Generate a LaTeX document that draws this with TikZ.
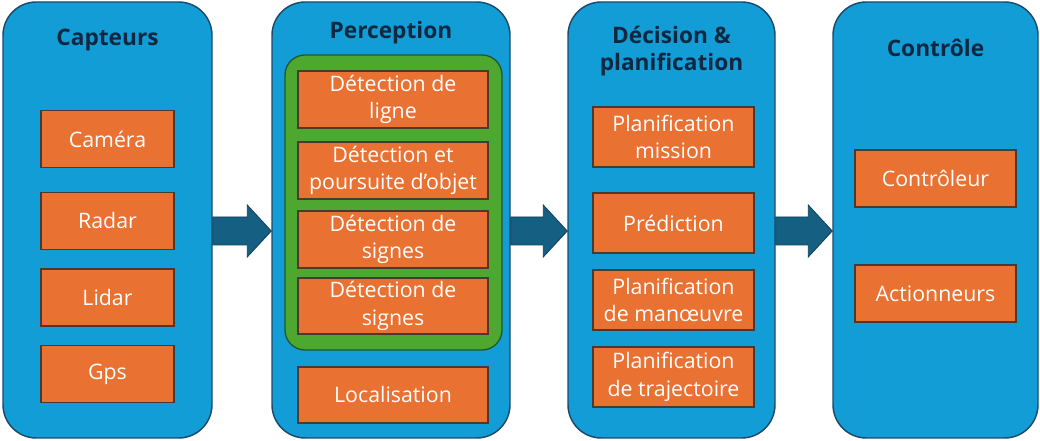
\documentclass[tikz,border=0pt]{standalone}
\usepackage{fontspec}
\setmainfont{Open Sans}
\usetikzlibrary{calc}
\definecolor{panelblue}{HTML}{129DD6}
\definecolor{paneledge}{HTML}{1B4A6B}
\definecolor{boxorange}{HTML}{E97132}
\definecolor{boxedge}{HTML}{4A3A30}
\definecolor{groupgreen}{HTML}{4EA72E}
\definecolor{groupedge}{HTML}{1E5A2A}
\definecolor{arrowteal}{HTML}{156082}
\definecolor{arrowedge}{HTML}{0E3F5A}
\definecolor{titlenavy}{HTML}{0E2841}
\def\u{0.75pt}
\tikzset{
  panel/.style={draw=paneledge, line width=1.1pt, fill=panelblue, rounded corners=25pt, inner sep=0pt},
  group/.style={draw=groupedge, line width=1pt, fill=groupgreen, rounded corners=15pt, inner sep=0pt},
  obox/.style={draw=boxedge, line width=0.8pt, fill=boxorange, inner sep=0pt, align=center,
    text=white, font=\fontsize{16}{20.5}\selectfont},
  ptitle/.style={inner sep=0pt, align=center, text=titlenavy, font=\fontsize{17}{20.5}\selectfont\bfseries},
  barrow/.style={fill=arrowteal, draw=arrowedge, line width=0.6pt, line join=miter}
}
\begin{document}
\begin{tikzpicture}[x=0.75pt, y=-0.75pt]
\useasboundingbox (0,0) rectangle (1040,441);
% panels
\node[panel, minimum width=209*\u, minimum height=436*\u] (p1) at (107.5,220) {};
\node[panel, minimum width=238*\u, minimum height=436*\u] (p2) at (391,220) {};
\node[panel, minimum width=207*\u, minimum height=436*\u] (p3) at (671.5,220) {};
\node[panel, minimum width=205*\u, minimum height=436*\u] (p4) at (935.5,220) {};
% titles
\node[ptitle] (t1) at (107.5,40) {Capteurs};
\node[ptitle] (t2) at (391,33) {Perception};
\node[ptitle] (t3) at (671.5,51) {Décision \&\\planification};
\node[ptitle] (t4) at (935.5,48) {Contrôle};
% panel 1
\node[obox, minimum width=133*\u, minimum height=57*\u] (cam) at (107.5,139) {Caméra};
\node[obox, minimum width=133*\u, minimum height=57*\u] (rad) at (107.5,221) {Radar};
\node[obox, minimum width=133*\u, minimum height=57*\u] (lid) at (107.5,297.5) {Lidar};
\node[obox, minimum width=133*\u, minimum height=57*\u] (gps) at (107.5,374) {Gps};
% panel 2
\node[group, minimum width=217*\u, minimum height=295*\u] (grp) at (393.5,202.5) {};
\node[obox, minimum width=190*\u, minimum height=57*\u] (dl) at (393,99.5) {Détection de\\ligne};
\node[obox, minimum width=190*\u, minimum height=57*\u] (dp) at (393,170.5) {Détection et\\poursuite d’objet};
\node[obox, minimum width=190*\u, minimum height=57*\u] (ds1) at (393,239.5) {Détection de\\signes};
\node[obox, minimum width=190*\u, minimum height=56*\u] (ds2) at (393,306) {Détection de\\signes};
\node[obox, minimum width=190*\u, minimum height=56*\u] (loc) at (393,395) {Localisation};
% panel 3
\node[obox, minimum width=161*\u, minimum height=60*\u] (pm) at (673.5,137) {Planification\\mission};
\node[obox, minimum width=161*\u, minimum height=60*\u] (pr) at (673.5,223) {Prédiction};
\node[obox, minimum width=161*\u, minimum height=60*\u] (pma) at (673.5,300) {Planification\\de manœuvre};
\node[obox, minimum width=161*\u, minimum height=60*\u] (pt) at (673.5,377) {Planification\\de trajectoire};
% panel 4
\node[obox, minimum width=161*\u, minimum height=57*\u] (ctl) at (935.5,178.5) {Contrôleur};
\node[obox, minimum width=161*\u, minimum height=57*\u] (act) at (935.5,293.5) {Actionneurs};
% block arrows
\foreach \a/\b/\n in {p1/p2/1, p2/p3/2, p3/p4/3}{
  \coordinate (s\n) at (\a.east |- 0,231);
  \coordinate (e\n) at (\b.west |- 0,231);
  \draw[barrow] ($(s\n)+(0,-14)$) -- ($(e\n)+(-24,-14)$) -- ($(e\n)+(-24,-26)$) -- (e\n)
    -- ($(e\n)+(-24,26)$) -- ($(e\n)+(-24,14)$) -- ($(s\n)+(0,14)$) -- cycle;
}
\end{tikzpicture}
\end{document}
